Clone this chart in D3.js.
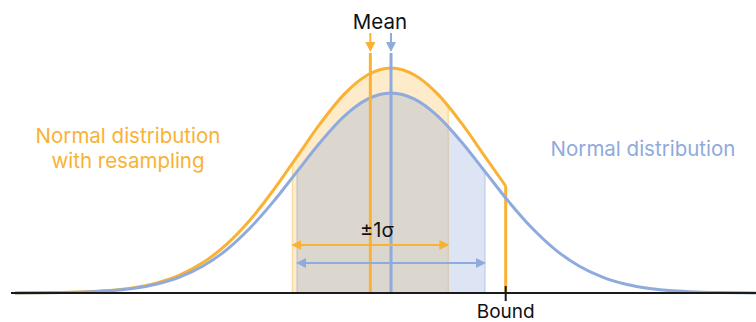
<!DOCTYPE html>
<html>
<head>
<meta charset="utf-8">
<script src="https://cdn.jsdelivr.net/npm/d3@7"></script>
<style>
  body { margin: 0; background: #fff; }
  svg { display: block; font-family: Inter, "Open Sans", sans-serif; }
</style>
</head>
<body>
<div id="chart"></div>
<script>
// values, x in sigma units of the plain normal
const zs = [-4, -3.75, -3.5, -3.25, -3, -2.75, -2.5, -2.25, -2, -1.75, -1.5, -1.25, -1, -0.75, -0.5, -0.25,
  0, 0.25, 0.5, 0.75, 1, 1.25, 1.5, 1.75, 2, 2.25, 2.5, 2.75, 3, 3.25, 3.5, 3.75, 3.88];
const normalHeight = [0.0003, 0.0009, 0.0022, 0.0051, 0.0111, 0.0228, 0.0439, 0.0796, 0.135, 0.216, 0.325, 0.458,
  0.607, 0.755, 0.883, 0.969, 1, 0.969, 0.883, 0.755, 0.607, 0.458, 0.325, 0.216, 0.135, 0.0796, 0.0439, 0.0228,
  0.0111, 0.0051, 0.0022, 0.0009, 0.0005];
const resampledZs = [-4, -3.75, -3.5, -3.25, -3, -2.75, -2.5, -2.25, -2, -1.75, -1.5, -1.25, -1, -0.75, -0.5, -0.25,
  0, 0.25, 0.5, 0.75, 1, 1.22];
const resampledHeight = [0.0004, 0.001, 0.0025, 0.0057, 0.0125, 0.0256, 0.0494, 0.0896, 0.152, 0.243, 0.365, 0.515,
  0.682, 0.849, 0.993, 1.09, 1.125, 1.09, 0.993, 0.849, 0.682, 0.535];
const bound = 1.22;
const means = [{ name: "resampled", mean: -0.22, sd: 0.83 }, { name: "normal", mean: 0, sd: 1 }];
const labels = ["Normal distribution", "with resampling"];

const width = 756, height = 322;
const orange = "#F9B233", blue = "#8FAADC";

const x = d3.scaleLinear().domain([-4.043, 3.883]).range([11, 756]);
const y = d3.scaleLinear().domain([0, 1]).range([293, 93]);

const svg = d3.select("#chart").append("svg").attr("width", width).attr("height", height);

const defs = svg.append("defs");
["orange", "blue"].forEach((n) => {
	defs.append("marker").attr("id", "head-" + n)
		.attr("viewBox", "0 0 10 10").attr("refX", 8).attr("refY", 5)
		.attr("markerWidth", 5).attr("markerHeight", 5).attr("orient", "auto-start-reverse")
		.append("path").attr("d", "M0,0 L10,5 L0,10 z")
		.attr("fill", n == "orange" ? orange : blue);
});

const normalPts = zs.map((z, i) => [z, normalHeight[i]]);
const resampledPts = resampledZs.map((z, i) => [z, resampledHeight[i]]);

const line = d3.line().x(d => x(d[0])).y(d => y(d[1])).curve(d3.curveMonotoneX);
const area = d3.area().x(d => x(d[0])).y0(y(0)).y1(d => y(d[1])).curve(d3.curveMonotoneX);

// +-1 sigma bands, clipped under each curve
function band(pts, m, color, alpha, id) {
	defs.append("clipPath").attr("id", id).append("path").attr("d", area(pts));
	svg.append("rect")
		.attr("x", x(m.mean - m.sd)).attr("width", x(m.mean + m.sd) - x(m.mean - m.sd))
		.attr("y", 0).attr("height", y(0))
		.attr("fill", color).attr("fill-opacity", alpha)
		.attr("stroke", color).attr("stroke-opacity", alpha + 0.1).attr("stroke-width", 1.5)
		.attr("clip-path", "url(#" + id + ")");
}
band(resampledPts, means[0], orange, 0.26, "clipO");
band(normalPts, means[1], blue, 0.3, "clipB");

// curves
svg.append("path").attr("d", line(resampledPts))
	.attr("fill", "none").attr("stroke", orange).attr("stroke-width", 3);
svg.append("line")
	.attr("x1", x(bound)).attr("x2", x(bound))
	.attr("y1", y(resampledHeight[resampledHeight.length - 1])).attr("y2", y(0))
	.attr("stroke", orange).attr("stroke-width", 3);
svg.append("path").attr("d", line(normalPts))
	.attr("fill", "none").attr("stroke", blue).attr("stroke-width", 3);

// mean lines and arrows
means.forEach((m) => {
	const c = m.name == "normal" ? blue : orange;
	const mk = m.name == "normal" ? "blue" : "orange";
	svg.append("line")
		.attr("x1", x(m.mean)).attr("x2", x(m.mean))
		.attr("y1", y(1.2)).attr("y2", y(0))
		.attr("stroke", c).attr("stroke-width", 3);
	svg.append("line")
		.attr("x1", x(m.mean)).attr("x2", x(m.mean))
		.attr("y1", 33).attr("y2", 50)
		.attr("stroke", c).attr("stroke-width", 2)
		.attr("marker-end", "url(#head-" + mk + ")");
});

// sigma arrows
const arrowY = { resampled: 245, normal: 263 };
means.forEach((m) => {
	const c = m.name == "normal" ? blue : orange;
	const mk = m.name == "normal" ? "blue" : "orange";
	svg.append("line")
		.attr("x1", x(m.mean - m.sd) + 1).attr("x2", x(m.mean + m.sd) - 1)
		.attr("y1", arrowY[m.name]).attr("y2", arrowY[m.name])
		.attr("stroke", c).attr("stroke-width", 2)
		.attr("marker-start", "url(#head-" + mk + ")")
		.attr("marker-end", "url(#head-" + mk + ")");
});

// axis
svg.append("line").attr("x1", x.range()[0]).attr("x2", x.range()[1])
	.attr("y1", y(0)).attr("y2", y(0)).attr("stroke", "#1a1a1a").attr("stroke-width", 2);
svg.append("line").attr("x1", x(bound)).attr("x2", x(bound))
	.attr("y1", y(0) - 7).attr("y2", y(0) + 8).attr("stroke", "#1a1a1a").attr("stroke-width", 2);

// texts
svg.append("text").attr("x", 380).attr("y", 29).attr("text-anchor", "middle")
	.attr("font-size", 20.5).attr("fill", "#111").text("Mean");
svg.append("text").attr("x", 377).attr("y", 237).attr("text-anchor", "middle")
	.attr("font-size", 20).attr("fill", "#111").text("±1σ");
svg.append("text").attr("x", x(bound)).attr("y", 318).attr("text-anchor", "middle")
	.attr("font-size", 19).attr("fill", "#111").text("Bound");
labels.forEach((t, i) => {
	svg.append("text").attr("x", 128).attr("y", 143 + i * 25).attr("text-anchor", "middle")
		.attr("font-size", 20.5).attr("fill", orange).text(t);
});
svg.append("text").attr("x", 643).attr("y", 156).attr("text-anchor", "middle")
	.attr("font-size", 20.5).attr("fill", blue).text("Normal distribution");
</script>
</body>
</html>
